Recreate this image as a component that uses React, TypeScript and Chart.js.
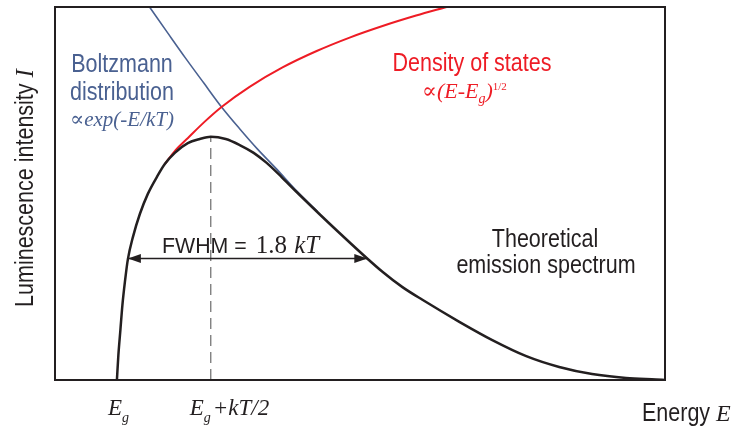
import { useEffect, useRef } from "react";
import { Chart, registerables } from "chart.js";

Chart.register(...registerables);

// Energy axis (arbitrary units) and intensity axis ranges
const energyRange = [0, 10];
const intensityRange = [0, 10];

// Theoretical emission spectrum
const spectrumE = [
  1.015, 1.039, 1.072, 1.105, 1.146, 1.195, 1.277, 1.391, 1.522, 1.669, 1.8, 1.964,
  2.177, 2.373, 2.553, 2.799, 3.028, 3.257, 3.47, 3.715, 3.961, 4.664, 5.368, 5.696,
  6.023, 6.628, 7.169, 7.725, 8.265, 8.805, 9.362, 9.853, 10.0,
];
const spectrumI = [
  0, 0.67, 1.34, 2.01, 2.63, 3.24, 3.83, 4.45, 4.99, 5.44, 5.79, 6.09,
  6.35, 6.46, 6.52, 6.46, 6.3, 6.09, 5.82, 5.44, 5.04, 3.94, 2.9, 2.49,
  2.15, 1.56, 1.07, 0.64, 0.35, 0.16, 0.054, 0.013, 0,
];

// Density of states ∝ (E-Eg)^1/2
const dosE = [1.8, 1.98, 2.18, 2.45, 2.73, 3.19, 3.73, 4.29, 4.83, 5.37, 5.92, 6.42];
const dosI = [5.79, 6.17, 6.49, 6.92, 7.32, 7.86, 8.38, 8.82, 9.18, 9.49, 9.77, 10.0];

// Boltzmann distribution ∝ exp(-E/kT)
const boltzE = [1.55, 1.85, 2.14, 2.44, 2.73, 3.03, 3.32, 3.63, 3.96, 4.3];
const boltzI = [10.0, 9.3, 8.63, 7.96, 7.32, 6.73, 6.19, 5.66, 5.07, 4.52];

// Marked energies: Eg and Eg + kT/2 (peak position)
const bandGapE = 1.015;
const peakE = 2.553;
// Half-maximum crossing energies of the spectrum
const fwhmE = [1.195, 5.12];

const BLACK = "#231f20";
const BLUE = "#4a6191";
const RED = "#ee1c25";
const SANS = "'Liberation Sans', Arial, Helvetica, sans-serif";
const SERIF = "'Liberation Serif', 'Times New Roman', 'DejaVu Serif', serif";

type Run = { t: string; font: string; dy?: number; sx?: number; gap?: number };

function drawRuns(
  ctx: CanvasRenderingContext2D,
  runs: Run[],
  x: number,
  y: number,
  color: string,
  align: "left" | "center"
) {
  const widths = runs.map((r) => {
    ctx.font = r.font;
    return ctx.measureText(r.t).width * (r.sx ?? 1) + (r.gap ?? 0);
  });
  const total = widths.reduce((a, b) => a + b, 0);
  let cx = align === "center" ? x - total / 2 : x;
  ctx.fillStyle = color;
  ctx.textBaseline = "alphabetic";
  ctx.textAlign = "left";
  runs.forEach((r, i) => {
    ctx.save();
    ctx.font = r.font;
    ctx.translate(cx, y + (r.dy ?? 0));
    ctx.scale(r.sx ?? 1, 1);
    ctx.fillText(r.t, 0, 0);
    ctx.restore();
    cx += widths[i];
  });
}

const sans = (px: number) => `${px}px ${SANS}`;
const serif = (px: number, italic = true) => `${italic ? "italic " : ""}${px}px ${SERIF}`;
const NARROW = 0.86;

const tickLabels: { at: number; dx: number; runs: Run[] }[] = [
  {
    at: bandGapE,
    dx: -9,
    runs: [
      { t: "E", font: serif(23) },
      { t: "g", font: serif(14), dy: 7 },
    ],
  },
  {
    at: peakE,
    dx: -21,
    runs: [
      { t: "E", font: serif(23) },
      { t: "g", font: serif(14), dy: 7, gap: 2 },
      { t: "+kT/2", font: serif(23) },
    ],
  },
];

const annotationPlugin = {
  id: "spectrumAnnotations",
  afterDatasetsDraw(chart: Chart) {
    const { ctx, chartArea, scales } = chart;
    const xs = scales.x;
    const ys = scales.y;

    // FWHM arrowheads
    const half = Math.max(...spectrumI) / 2;
    const ay = ys.getPixelForValue(half);
    const head = (tipX: number, dir: number) => {
      ctx.beginPath();
      ctx.moveTo(tipX, ay);
      ctx.lineTo(tipX - dir * 13, ay - 4.5);
      ctx.lineTo(tipX - dir * 13, ay + 4.5);
      ctx.closePath();
      ctx.fillStyle = BLACK;
      ctx.fill();
    };
    head(xs.getPixelForValue(fwhmE[0]), -1);
    head(xs.getPixelForValue(fwhmE[1]), 1);

    // Frame
    ctx.save();
    ctx.strokeStyle = BLACK;
    ctx.lineWidth = 2;
    ctx.strokeRect(
      chartArea.left,
      chartArea.top,
      chartArea.right - chartArea.left,
      chartArea.bottom - chartArea.top
    );
    ctx.restore();

    // Curve labels
    drawRuns(ctx, [{ t: "Boltzmann", font: sans(25), sx: NARROW }], 122, 72, BLUE, "center");
    drawRuns(ctx, [{ t: "distribution", font: sans(25), sx: NARROW }], 122, 100, BLUE, "center");
    drawRuns(ctx, [{ t: "∝exp(-E/kT)", font: serif(21) }], 122, 126, BLUE, "center");

    drawRuns(ctx, [{ t: "Density of states", font: sans(25), sx: NARROW }], 472, 71, RED, "center");
    drawRuns(
      ctx,
      [
        { t: "∝(E-E", font: serif(22) },
        { t: "g", font: serif(14), dy: 5 },
        { t: ")", font: serif(22) },
        { t: "1/2", font: serif(11, false), dy: -8 },
      ],
      422,
      98,
      RED,
      "left"
    );

    drawRuns(
      ctx,
      [
        { t: "FWHM = ", font: sans(22), sx: 0.97, gap: 3 },
        { t: "1.8 ", font: serif(25, false), gap: 1 },
        { t: "kT", font: serif(25) },
      ],
      162,
      253,
      BLACK,
      "left"
    );

    drawRuns(ctx, [{ t: "Theoretical", font: sans(25), sx: NARROW }], 545, 247, BLACK, "center");
    drawRuns(ctx, [{ t: "emission spectrum", font: sans(25), sx: NARROW }], 546, 273, BLACK, "center");

    // Axis labels
    for (const tl of tickLabels) {
      drawRuns(ctx, tl.runs, xs.getPixelForValue(tl.at) + tl.dx, 415, BLACK, "left");
    }
    drawRuns(
      ctx,
      [
        { t: "Energy ", font: sans(25), sx: NARROW },
        { t: "E", font: serif(24) },
      ],
      642,
      421,
      BLACK,
      "left"
    );

    ctx.save();
    ctx.translate(33, 188);
    ctx.rotate(-Math.PI / 2);
    drawRuns(
      ctx,
      [
        { t: "Luminescence intensity ", font: sans(25), sx: NARROW },
        { t: "I", font: serif(25) },
      ],
      0,
      0,
      BLACK,
      "center"
    );
    ctx.restore();
  },
};

const toPoints = (xs: number[], ys: number[]) => xs.map((x, i) => ({ x, y: ys[i] }));

export default function App() {
  const canvasRef = useRef<HTMLCanvasElement | null>(null);

  useEffect(() => {
    const canvas = canvasRef.current;
    if (!canvas) return;
    const peakI = Math.max(...spectrumI);
    const half = peakI / 2;

    const chart = new Chart(canvas, {
      type: "line",
      data: {
        datasets: [
          {
            label: "Theoretical emission spectrum",
            data: toPoints(spectrumE, spectrumI),
            borderColor: BLACK,
            borderWidth: 2.5,
            cubicInterpolationMode: "monotone",
            pointRadius: 0,
            order: 0,
          },
          {
            label: "FWHM",
            data: toPoints(fwhmE, [half, half]),
            borderColor: BLACK,
            borderWidth: 1.5,
            pointRadius: 0,
            tension: 0,
            order: 1,
          },
          {
            label: "Density of states",
            data: toPoints(dosE, dosI),
            borderColor: RED,
            borderWidth: 2,
            cubicInterpolationMode: "monotone",
            pointRadius: 0,
            order: 2,
          },
          {
            label: "Boltzmann distribution",
            data: toPoints(boltzE, boltzI),
            borderColor: BLUE,
            borderWidth: 1.6,
            cubicInterpolationMode: "monotone",
            pointRadius: 0,
            order: 3,
          },
          {
            label: "Peak",
            data: toPoints([peakE, peakE], [0, peakI]),
            borderColor: "#808080",
            borderWidth: 1.4,
            borderDash: [11, 6],
            pointRadius: 0,
            tension: 0,
            order: 4,
          },
        ],
      },
      options: {
        responsive: false,
        animation: false,
        devicePixelRatio: 1,
        layout: { padding: { left: 55, right: 70, top: 7, bottom: 46 } },
        plugins: {
          legend: { display: false },
          tooltip: { enabled: false },
        },
        scales: {
          x: { type: "linear", min: energyRange[0], max: energyRange[1], display: false },
          y: { type: "linear", min: intensityRange[0], max: intensityRange[1], display: false },
        },
      },
      plugins: [annotationPlugin],
    });
    return () => chart.destroy();
  }, []);

  return (
    <div style={{ position: "fixed", left: 0, top: 0, width: 735, height: 426, background: "#fff" }}>
      <canvas ref={canvasRef} width={735} height={426} style={{ display: "block" }} />
    </div>
  );
}
